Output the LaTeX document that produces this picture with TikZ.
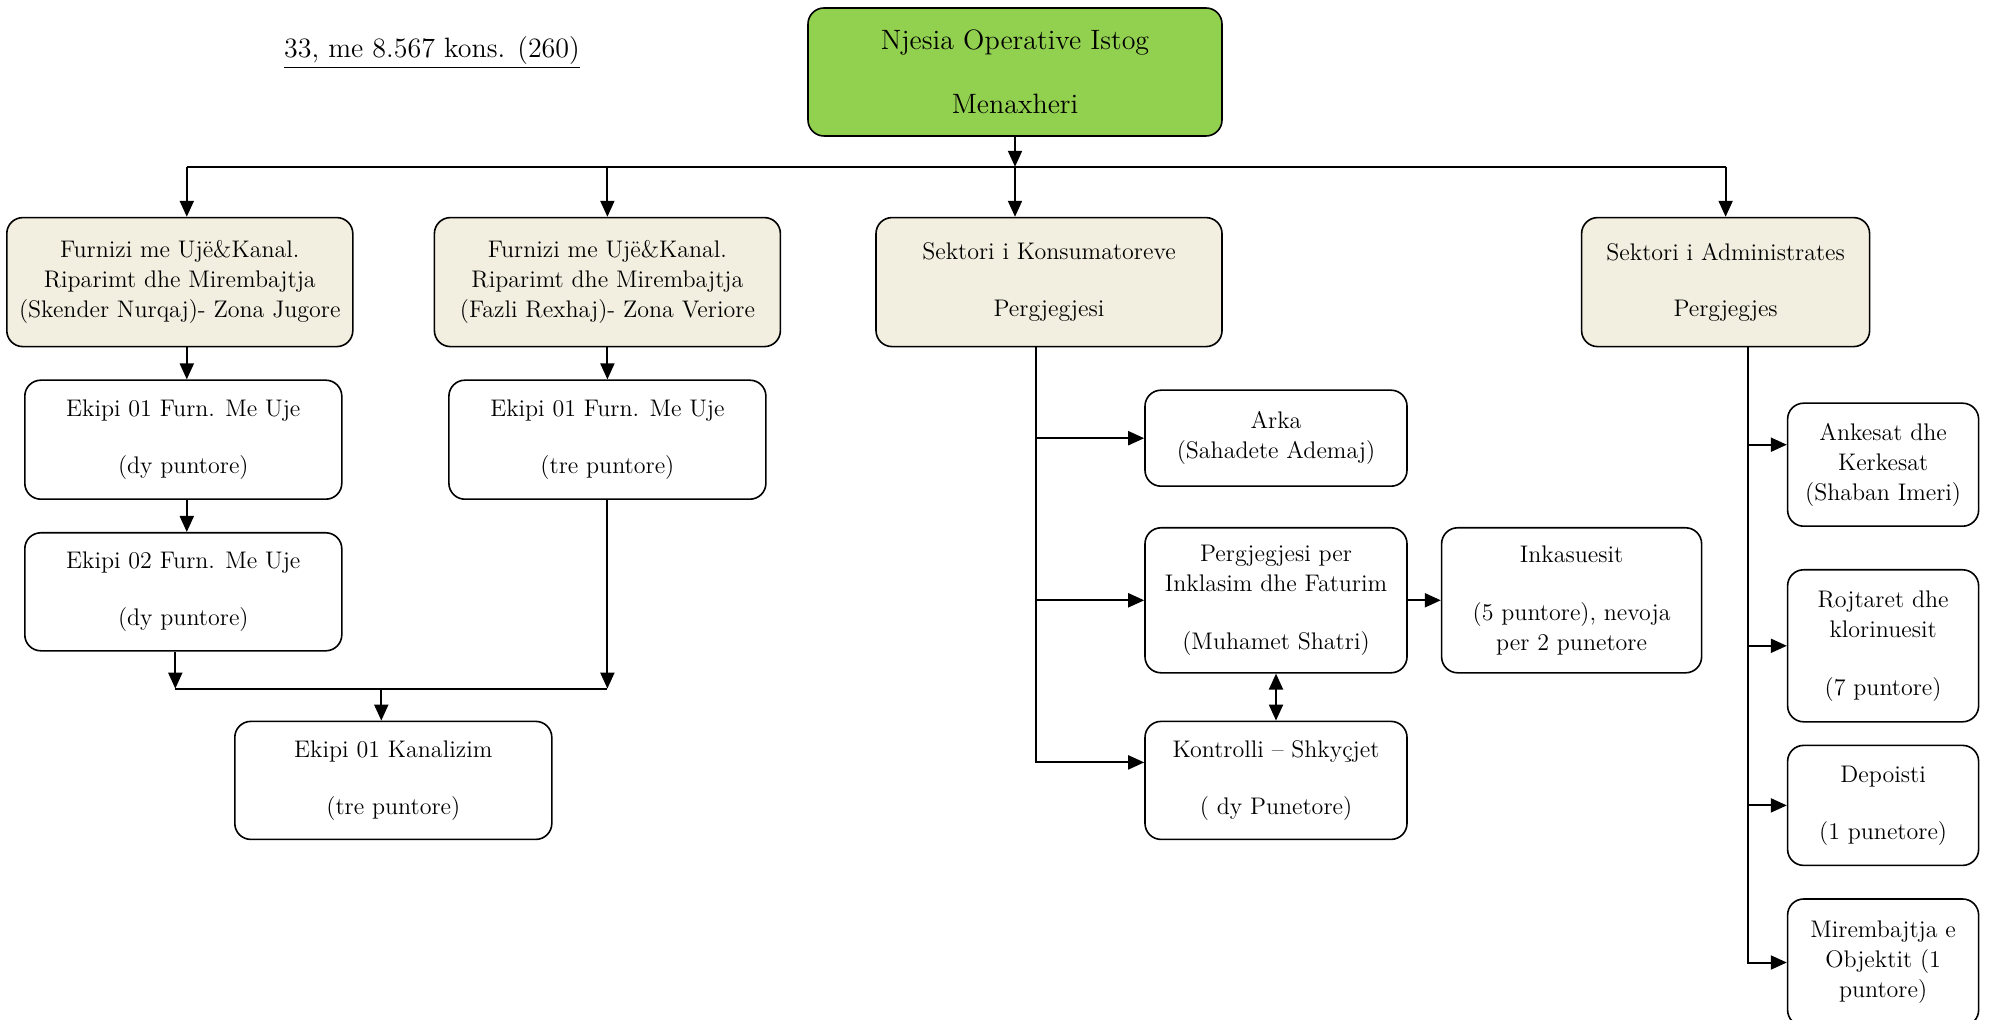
\documentclass[tikz,border=0pt]{standalone}
\usetikzlibrary{positioning, arrows.meta}
\definecolor{managergreen}{RGB}{146,208,80}
\definecolor{sectorbeige}{RGB}{243,239,224}

\begin{document}
\begin{tikzpicture}[
    every node/.style={rectangle, draw, rounded corners=8pt, align=center, inner sep=0pt, line width=0.8pt, font=\fontsize{12}{15}\selectfont},
    sector/.style={fill=sectorbeige, minimum width=173pt, minimum height=64.5pt},
    team/.style={minimum width=158.5pt, minimum height=59.5pt},
    desk/.style={minimum width=131pt},
    side/.style={minimum width=95.5pt},
    link/.style={line width=1pt},
    arrow/.style={line width=1pt, -{Triangle[length=8pt, width=7pt]}},
    twoway/.style={line width=1pt, {Triangle[length=8pt, width=7pt]}-{Triangle[length=8pt, width=7pt]}}
]
\useasboundingbox (0,0) rectangle (995pt,-510pt);
\node (manager) [fill=managergreen, minimum width=207pt, minimum height=64pt, font=\fontsize{14}{17}\selectfont] at (507.5pt,-36pt) {Njesia Operative Istog \\[15pt] Menaxheri};
\node (title) [draw=none, font=\fontsize{14}{17}\selectfont] at (216pt,-26.5pt) {\underline{33, me 8.567 kons. (260)}};

\node (konsumatoret) [sector, below=40pt of manager, xshift=17pt] {Sektori i Konsumatoreve \\[13.5pt] Pergjegjesi};
\node (zonaveriore) [sector, left=47pt of konsumatoret] {Furnizi me Ujë\&Kanal. \\ Riparimt dhe Mirembajtja \\ (Fazli Rexhaj)- Zona Veriore};
\node (zonajugore) [sector, left=40pt of zonaveriore] {Furnizi me Ujë\&Kanal. \\ Riparimt dhe Mirembajtja \\ (Skender Nurqaj)- Zona Jugore};
\node (administrata) [sector, minimum width=144pt, right=179pt of konsumatoret] {Sektori i Administrates \\[13pt] Pergjegjes};

\node (ekipi1jugore) [team, below=16pt of zonajugore, xshift=1.75pt] {Ekipi 01 Furn. Me Uje \\[13.5pt] (dy puntore)};
\node (ekipi2jugore) [team, minimum height=59pt, below=16pt of ekipi1jugore] {Ekipi 02 Furn. Me Uje \\[13.5pt] (dy puntore)};
\node (ekipi1veriore) [team, below=16pt of zonaveriore] {Ekipi 01 Furn. Me Uje \\[13.5pt] (tre puntore)};
\node (kanalizimi) [team, minimum height=59pt, below=34.5pt of ekipi2jugore, xshift=105pt] {Ekipi 01 Kanalizim \\[13.5pt] (tre puntore)};

\node (arka) [desk, minimum height=48pt, below=21pt of konsumatoret, xshift=113.5pt] {Arka \\ (Sahadete Ademaj)};
\node (inklasimi) [desk, minimum height=72.5pt, below=20pt of arka] {Pergjegjesi per \\ Inklasim dhe Faturim \\[14pt] (Muhamet Shatri)};
\node (kontrolli) [desk, minimum height=59pt, below=23.5pt of inklasimi] {Kontrolli – Shkyçjet \\[13.5pt] ( dy Punetore)};
\node (inkasuesit) [minimum width=130pt, minimum height=72.5pt, right=16.5pt of inklasimi] {Inkasuesit \\[14pt] (5 puntore), nevoja \\ per 2 punetore};

\node (ankesat) [side, minimum height=61.5pt, below=27.5pt of administrata, xshift=78.75pt] {Ankesat dhe \\ Kerkesat \\ (Shaban Imeri)};
\node (rojtaret) [side, minimum height=76pt, below=21pt of ankesat] {Rojtaret dhe \\ klorinuesit \\[14pt] (7 puntore)};
\node (depoisti) [side, minimum height=60pt, below=11pt of rojtaret] {Depoisti \\[13.5pt] (1 punetore)};
\node (mirembajtja) [side, minimum height=63.5pt, below=16pt of depoisti] {Mirembajtja e \\ Objektit (1 \\ puntore)};

\coordinate (bus) at ([yshift=-15pt]manager.south);
\coordinate (jugoreaxis) at ([xshift=3.5pt]zonajugore.north);
\coordinate (join) at ([xshift=-4pt, yshift=-18.5pt]ekipi2jugore.south);
\coordinate (konstrunk) at ([xshift=-6.5pt]konsumatoret.south);
\coordinate (admtrunk) at ([xshift=11pt]administrata.south);
\coordinate (ankesathyrja) at ([yshift=10pt]ankesat.west);
\coordinate (kontrollihyrja) at ([yshift=9pt]kontrolli.west);

\draw [arrow] (manager) -- (bus);
\draw [link] (jugoreaxis |- bus) -- (administrata.north |- bus);
\draw [arrow] (jugoreaxis |- bus) -- (jugoreaxis);
\draw [arrow] (zonaveriore.north |- bus) -- (zonaveriore);
\draw [arrow] (bus) -- (bus |- konsumatoret.north);
\draw [arrow] (administrata.north |- bus) -- (administrata);

\draw [arrow] (jugoreaxis |- zonajugore.south) -- (jugoreaxis |- ekipi1jugore.north);
\draw [arrow] (jugoreaxis |- ekipi1jugore.south) -- (jugoreaxis |- ekipi2jugore.north);
\draw [arrow] (zonaveriore) -- (ekipi1veriore);
\draw [arrow] (join |- ekipi2jugore.south) -- (join);
\draw [arrow] (ekipi1veriore) -- (ekipi1veriore |- join);
\draw [link] (join) -- (ekipi1veriore |- join);
\draw [arrow] ([xshift=-6pt]kanalizimi.north |- join) -- ([xshift=-6pt]kanalizimi.north);

\draw [arrow] (konstrunk) |- (kontrollihyrja);
\draw [arrow] (konstrunk |- arka.west) -- (arka);
\draw [arrow] (konstrunk |- inklasimi.west) -- (inklasimi);
\draw [arrow] (inklasimi) -- (inkasuesit);
\draw [twoway] (inklasimi) -- (kontrolli);

\draw [arrow] (admtrunk) |- (mirembajtja);
\draw [arrow] (admtrunk |- ankesathyrja) -- (ankesathyrja);
\draw [arrow] (admtrunk |- rojtaret.west) -- (rojtaret);
\draw [arrow] (admtrunk |- depoisti.west) -- (depoisti);
\end{tikzpicture}
\end{document}
